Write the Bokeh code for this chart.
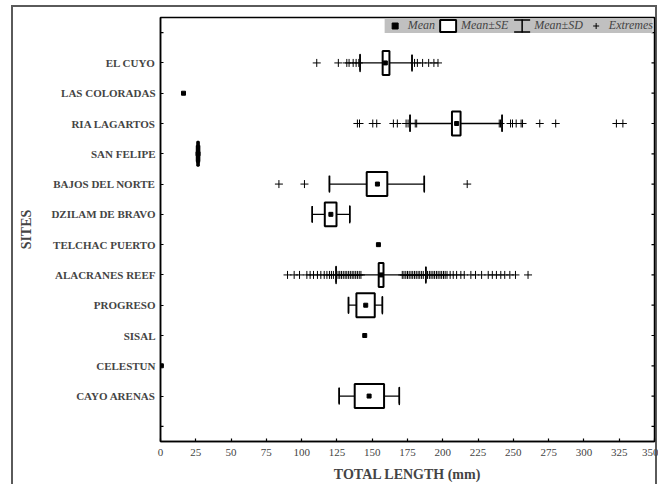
import math
from bokeh.plotting import figure
from bokeh.models import Range1d, FixedTicker, ColumnDataSource, Legend, LegendItem
from bokeh.embed import file_html
from bokeh.resources import INLINE

# ---------------- data ----------------
sites = ["EL CUYO", "LAS COLORADAS", "RIA LAGARTOS", "SAN FELIPE", "BAJOS DEL NORTE",
         "DZILAM DE BRAVO", "TELCHAC PUERTO", "ALACRANES REEF", "PROGRESO", "SISAL",
         "CELESTUN", "CAYO ARENAS"]
means   = [159.3, 16.3, 209.8, 26.6, 153.7, 120.7, 154.4, 156.3, 145.4, 144.7, 0.6, 147.8]
se_low  = [157.4, None, 206.5, 26.0, 146.1, 116.4, None, 154.6, 138.8, None, None, 137.6]
se_high = [162.2, None, 212.6, 27.2, 160.7, 124.7, None, 158.0, 151.8, None, None, 158.4]
sd_low  = [141.4, None, 176.8, 25.6, 119.7, 107.5, None, 124.4, 133.2, None, None, 126.6]
sd_high = [178.2, None, 242.0, 27.6, 186.9, 134.1, None, 188.0, 157.2, None, None, 169.2]

ext_el_cuyo = [110.7, 126.0, 132.0, 133.6, 136.5, 138.6, 140.5,
               180.0, 182.0, 185.7, 190.0, 193.7, 196.6]
ext_ria_lagartos = [139.5, 141.0, 150.4, 153.2, 165.0, 167.8, 174.0, 175.4, 180.5, 181.5,
                    240.0, 240.9, 248.0, 249.4, 252.0, 255.5, 256.5, 268.7, 280.0,
                    323.0, 327.6]
ext_bajos = [83.9, 102.0, 217.3]
ext_alacranes = [90.0, 94.7, 98.5, 103.7, 106.0, 108.4, 111.2, 113.6, 116.0, 117.9,
                 119.7, 121.1, 122.5, 125.8, 127.0, 128.2, 129.5, 130.8, 132.0, 133.3,
                 134.5, 135.8, 137.0, 138.3, 139.5, 140.8, 142.0,
                 171.3, 172.5, 173.8, 175.0, 176.2, 177.5, 178.7, 180.0, 181.2, 182.5,
                 183.7, 185.0, 186.2, 189.2, 190.5, 191.7, 193.0, 194.2, 195.5, 196.7,
                 198.0, 199.2, 200.5, 201.7, 203.0, 205.2, 207.4, 209.8, 212.8, 215.2,
                 219.9, 223.2, 227.5, 232.2, 235.1, 238.0, 241.1, 243.9, 247.5, 251.5,
                 260.4]
extremes = {"EL CUYO": ext_el_cuyo, "RIA LAGARTOS": ext_ria_lagartos,
            "BAJOS DEL NORTE": ext_bajos, "ALACRANES REEF": ext_alacranes}

x_ticks = list(range(0, 351, 25))

# ---------------- derived sources ----------------
ypos = list(range(1, len(sites) + 1))
all_yticks = [0] + ypos + [len(sites) + 1]
BOX_H = 0.395
CAP_H = 0.28

stat_idx = [i for i in range(len(sites)) if se_low[i] is not None]
box_src = ColumnDataSource(dict(
    left=[se_low[i] for i in stat_idx], right=[se_high[i] for i in stat_idx],
    top=[ypos[i] - BOX_H for i in stat_idx], bottom=[ypos[i] + BOX_H for i in stat_idx]))
whisk_src = ColumnDataSource(dict(
    x0=[sd_low[i] for i in stat_idx], x1=[sd_high[i] for i in stat_idx],
    y=[ypos[i] for i in stat_idx]))
cap_x = [sd_low[i] for i in stat_idx] + [sd_high[i] for i in stat_idx]
cap_y = [ypos[i] for i in stat_idx] * 2
cap_src = ColumnDataSource(dict(x=cap_x, y=cap_y, y0=[v - CAP_H for v in cap_y],
                                y1=[v + CAP_H for v in cap_y]))
mean_src = ColumnDataSource(dict(x=means, y=ypos))
ex_x, ex_y = [], []
for name, vals in extremes.items():
    yy = ypos[sites.index(name)]
    ex_x += vals
    ex_y += [yy] * len(vals)
ext_src = ColumnDataSource(dict(x=ex_x, y=ex_y))

# ---------------- figure ----------------
SERIF = "Liberation Serif"
p = figure(width=658, height=484, output_backend="svg", toolbar_location=None,
           x_range=Range1d(x_ticks[0], x_ticks[-1]),
           y_range=Range1d(len(sites) + 1.5, -0.5),
           min_border_left=160, min_border_right=4, min_border_top=17, min_border_bottom=42)
p.xgrid.visible = False
p.ygrid.visible = False
p.outline_line_color = "black"
p.outline_line_width = 1.5
p.background_fill_color = "white"
p.border_fill_color = None
# thin grey outer frame of the whole figure (page background, under the canvas)
p.styles = {
    "background-color": "white",
    "background-image": "linear-gradient(#5a5a5a,#5a5a5a), linear-gradient(#5a5a5a,#5a5a5a), "
                        "linear-gradient(#5a5a5a,#5a5a5a)",
    "background-position": "11px 5px, 11px 5px, 655px 5px",
    "background-size": "2px 100%, 646px 2px, 2px 100%",
    "background-repeat": "no-repeat",
}

# SD whiskers
p.segment(x0="x0", y0="y", x1="x1", y1="y", source=whisk_src, line_color="black", line_width=1.3)
# whisker caps: zero-width dashed quads (legend: top/bottom bars of the I symbol)
r_cap = p.quad(left="x", right="x", top="y0", bottom="y1", source=cap_src, fill_color=None,
               line_color="black", line_width=1.5, line_dash="16 12")
# and flat ellipses on the same caps (legend: the vertical stem of the I symbol)
r_cap_stem = p.ellipse(x="x", y="y", width=0.01, height=2 * CAP_H, source=cap_src,
                       fill_color=None, line_color="black", line_width=1.5)
r_ext = p.scatter(x="x", y="y", source=ext_src, marker="cross", size=8,
                  line_color="black", line_width=1)
r_box = p.quad(left="left", right="right", top="top", bottom="bottom", source=box_src,
               fill_color="white", line_color="black", line_width=2)
r_mean = p.scatter(x="x", y="y", source=mean_src, marker="square", size=4,
                   fill_color="black", line_color="black")

# inward tick marks on the right edge and the unlabeled end ticks on the left edge
p.ray(x=[x_ticks[-1]] * len(all_yticks), y=all_yticks, length=3, length_units="screen",
      angle=math.pi, line_color="black", line_width=1.2)
p.ray(x=[x_ticks[0]] * 2, y=[all_yticks[0], all_yticks[-1]], length=3, length_units="screen",
      angle=0, line_color="black", line_width=1.2)

# axes
xa = p.xaxis[0]
xa.ticker = FixedTicker(ticks=x_ticks)
xa.axis_label = "TOTAL LENGTH (mm)"
xa.major_tick_in = 3
xa.major_tick_out = 0
xa.minor_tick_line_color = None
xa.axis_line_width = 1.5
xa.major_tick_line_width = 1.2
xa.major_label_text_font = SERIF
xa.major_label_text_font_size = "11px"
xa.major_label_standoff = 7
xa.axis_label_text_font = SERIF
xa.axis_label_text_font_style = "bold"
xa.axis_label_text_font_size = "14px"
xa.axis_label_standoff = 8

ya = p.yaxis[0]
ya.ticker = FixedTicker(ticks=ypos)
ya.major_label_overrides = {y: s for y, s in zip(ypos, sites)}
ya.axis_label = "SITES"
ya.major_tick_in = 3
ya.major_tick_out = 0
ya.minor_tick_line_color = None
ya.axis_line_width = 1.5
ya.major_tick_line_width = 1.2
ya.major_label_text_font = SERIF
ya.major_label_text_font_style = "bold"
ya.major_label_text_font_size = "11px"
ya.major_label_standoff = 5
ya.axis_label_text_font = SERIF
ya.axis_label_text_font_style = "bold"
ya.axis_label_text_font_size = "14px"
ya.axis_label_standoff = 14

# legend
legend = Legend(items=[
    LegendItem(label="Mean", renderers=[r_mean]),
    LegendItem(label="Mean±SE", renderers=[r_box]),
    LegendItem(label="Mean±SD", renderers=[r_cap, r_cap_stem]),
    LegendItem(label="Extremes", renderers=[r_ext]),
], orientation="horizontal", location="top_right", margin=1, padding=3, spacing=3,
    glyph_width=20, glyph_height=15, label_height=14, label_standoff=3,
    background_fill_color="#c0c0c0", background_fill_alpha=1, border_line_color=None,
    label_text_font=SERIF, label_text_font_style="italic", label_text_font_size="12px")
p.add_layout(legend)

open("out.html", "w").write(file_html(p, INLINE))
